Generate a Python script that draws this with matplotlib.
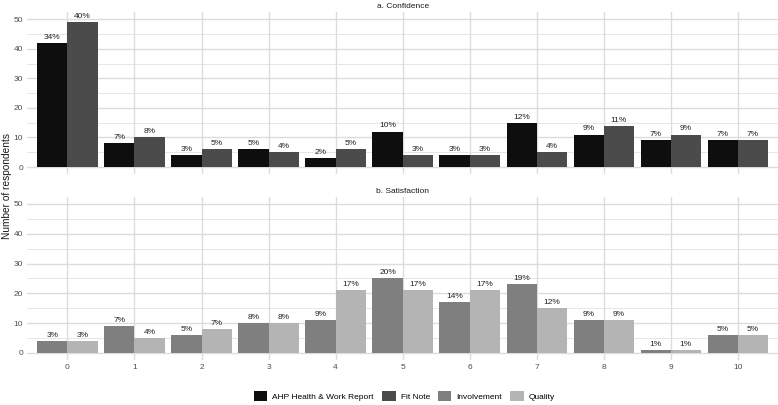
import numpy as np
import matplotlib
matplotlib.use("Agg")
import matplotlib.pyplot as plt
from matplotlib.patches import Patch

plt.rcParams['font.family'] = ['Liberation Sans', 'DejaVu Sans']

scores = list(range(11))

# a. Confidence
ahp_counts = [42, 8, 4, 6, 3, 12, 4, 15, 11, 9, 9]
ahp_pct = ["34%", "7%", "3%", "5%", "2%", "10%", "3%", "12%", "9%", "7%", "7%"]
fitnote_counts = [49, 10, 6, 5, 6, 4, 4, 5, 14, 11, 9]
fitnote_pct = ["40%", "8%", "5%", "4%", "5%", "3%", "3%", "4%", "11%", "9%", "7%"]

# b. Satisfaction
involvement_counts = [4, 9, 6, 10, 11, 25, 17, 23, 11, 1, 6]
involvement_pct = ["3%", "7%", "5%", "8%", "9%", "20%", "14%", "19%", "9%", "1%", "5%"]
quality_counts = [4, 5, 8, 10, 21, 21, 21, 15, 11, 1, 6]
quality_pct = ["3%", "4%", "7%", "8%", "17%", "17%", "17%", "12%", "9%", "1%", "5%"]

series_names = ["AHP Health & Work Report", "Fit Note", "Involvement", "Quality"]
colors = ["#0e0e0e", "#4b4b4b", "#7f7f7f", "#b4b4b4"]

fig = plt.figure(figsize=(7.78, 4.05), dpi=100)
ax_top = fig.add_axes([0.035, 0.570, 0.965, 0.400])
ax_bot = fig.add_axes([0.035, 0.111, 0.965, 0.403])

x = np.array(scores)
w = 0.45


def draw_panel(ax, left_vals, left_pct, left_col, right_vals, right_pct, right_col, title):
    b1 = ax.bar(x - w / 2, left_vals, width=w, color=left_col, zorder=2)
    b2 = ax.bar(x + w / 2, right_vals, width=w, color=right_col, zorder=2)
    for bars, labs in ((b1, left_pct), (b2, right_pct)):
        for rect, lab in zip(bars, labs):
            ax.annotate(lab, (rect.get_x() + rect.get_width() / 2, rect.get_height()),
                        xytext=(0, 1.5), textcoords="offset points",
                        ha="center", va="bottom", fontsize=6, color="#222222")
    ax.set_xlim(-0.6, 10.6)
    ax.set_ylim(-2.4, 52.4)
    ax.set_yticks([0, 10, 20, 30, 40, 50])
    ax.set_yticks([5, 15, 25, 35, 45], minor=True)
    ax.set_xticks(scores)
    ax.grid(which="major", color="#dcdcdc", linewidth=1.0, zorder=0)
    ax.grid(which="minor", axis="y", color="#dcdcdc", linewidth=0.5, zorder=0)
    ax.tick_params(which="both", length=0, labelsize=6, labelcolor="#4d4d4d", pad=3)
    for s in ax.spines.values():
        s.set_visible(False)
    ax.set_axisbelow(True)
    ax.set_title(title, fontsize=6, color="#1a1a1a", pad=3)


draw_panel(ax_top, ahp_counts, ahp_pct, colors[0], fitnote_counts, fitnote_pct, colors[1],
           "a. Confidence")
draw_panel(ax_bot, involvement_counts, involvement_pct, colors[2], quality_counts, quality_pct,
           colors[3], "b. Satisfaction")
ax_top.set_xticklabels([])
ax_bot.set_xticklabels([str(s) for s in scores])

fig.text(0.002, 0.541, "Number of respondents", rotation=90, ha="left", va="center",
         fontsize=7.3, color="#1a1a1a")

handles = [Patch(facecolor=c, label=n) for c, n in zip(colors, series_names)]
fig.legend(handles=handles, loc="center", bbox_to_anchor=(0.52, 0.022), ncol=4,
           frameon=False, fontsize=6, handlelength=1.6, handleheight=1.6,
           columnspacing=1.0, handletextpad=0.6)

fig.savefig("out.png", dpi=100)
